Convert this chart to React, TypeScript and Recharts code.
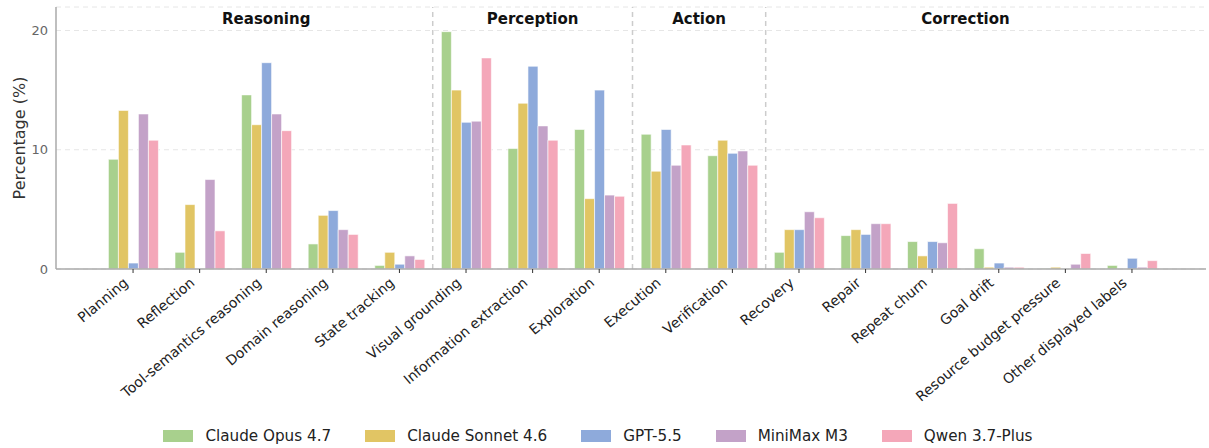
import React from 'react';
import { BarChart, Bar, XAxis, YAxis, CartesianGrid, ReferenceLine, ReferenceArea, Legend } from 'recharts';

const categories = [
  'Planning', 'Reflection', 'Tool-semantics reasoning', 'Domain reasoning', 'State tracking',
  'Visual grounding', 'Information extraction', 'Exploration',
  'Execution', 'Verification',
  'Recovery', 'Repair', 'Repeat churn', 'Goal drift', 'Resource budget pressure', 'Other displayed labels',
];

const seriesNames = ['Claude Opus 4.7', 'Claude Sonnet 4.6', 'GPT-5.5', 'MiniMax M3', 'Qwen 3.7-Plus'];
const seriesKeys = ['opus', 'sonnet', 'gpt', 'minimax', 'qwen'];
const colors = ['#A8D08D', '#E1C564', '#8EAADB', '#C3A2C8', '#F4A7B9'];

const opus = [9.2, 1.4, 14.6, 2.1, 0.3, 19.9, 10.1, 11.7, 11.3, 9.5, 1.4, 2.8, 2.3, 1.7, 0.05, 0.3];
const sonnet = [13.3, 5.4, 12.1, 4.5, 1.4, 15.0, 13.9, 5.9, 8.2, 10.8, 3.3, 3.3, 1.1, 0.15, 0.15, 0.0];
const gpt = [0.5, 0.0, 17.3, 4.9, 0.4, 12.3, 17.0, 15.0, 11.7, 9.7, 3.3, 2.9, 2.3, 0.5, 0.0, 0.9];
const minimax = [13.0, 7.5, 13.0, 3.3, 1.1, 12.4, 12.0, 6.2, 8.7, 9.9, 4.8, 3.8, 2.2, 0.15, 0.4, 0.15];
const qwen = [10.8, 3.2, 11.6, 2.9, 0.8, 17.7, 10.8, 6.1, 10.4, 8.7, 4.3, 3.8, 5.5, 0.15, 1.3, 0.7];

const groupNames = ['Reasoning', 'Perception', 'Action', 'Correction'];
const groupFirst = ['Planning', 'Visual grounding', 'Execution', 'Recovery'];
const groupLast = ['State tracking', 'Exploration', 'Verification', 'Other displayed labels'];

const yTicks = [0, 10, 20];

const seriesValues = [opus, sonnet, gpt, minimax, qwen];
const data = categories.map((c, i) => {
  const row: any = { category: c };
  seriesKeys.forEach((k, s) => { row[k] = seriesValues[s][i]; });
  return row;
});

const FONT = 'DejaVu Sans, sans-serif';

const XTick = (props: any) => {
  const { x, y, payload } = props;
  return (
    <g transform={`translate(${x - 4},${y + 9.4}) rotate(-40)`}>
      <text x={0} y={0} textAnchor="end" fontSize={14} fill="#222" fontFamily={FONT}>
        {payload.value}
      </text>
    </g>
  );
};

const GroupLabel = (name: string) => (props: any) => {
  const vb = props.viewBox || {};
  return (
    <text x={vb.x + vb.width / 2} y={vb.y + 17} textAnchor="middle" fontSize={15} fontWeight="bold" fill="#111" fontFamily={FONT}>
      {name}
    </text>
  );
};

const LegendContent = () => (
  <div style={{ display: 'flex', justifyContent: 'center', alignItems: 'center', height: 24, fontFamily: FONT, fontSize: 15.2, color: '#222', paddingRight: 10 }}>
    {seriesNames.map((n, i) => (
      <div key={n} style={{ display: 'flex', alignItems: 'center', marginLeft: i ? 34 : 0 }}>
        <span style={{ width: 30, height: 12, background: colors[i], marginRight: 12, display: 'inline-block' }} />
        <span>{n}</span>
      </div>
    ))}
  </div>
);

export default function App() {
  return (
    <div style={{ position: 'absolute', left: 0, top: 0, background: '#fff' }}>
      <BarChart width={1209} height={448} data={data} margin={{ top: 7, right: 3, left: 0, bottom: 0 }} barCategoryGap="13%" barGap={0}>
        <CartesianGrid vertical={false} stroke="#e6e6e6" strokeDasharray="5 4" />
        <XAxis
          dataKey="category"
          interval={0}
          height={155}
          tick={<XTick />}
          tickSize={4}
          tickMargin={2}
          tickLine={{ stroke: '#333' }}
          axisLine={{ stroke: '#aaaaaa', strokeWidth: 1.5 }}
          padding={{ left: 43.75, right: 40.75 }}
        />
        <YAxis
          width={56}
          domain={[0, 21.97]}
          ticks={yTicks}
          tickSize={0}
          tickMargin={8}
          tickLine={false}
          axisLine={{ stroke: '#aaaaaa', strokeWidth: 1.5 }}
          tick={{ fontSize: 13, fill: '#666', fontFamily: FONT }}
          label={{ value: 'Percentage (%)', angle: -90, position: 'insideLeft', offset: 19, style: { textAnchor: 'middle', fontSize: 16, fill: '#333', fontFamily: FONT } }}
        />
        {groupNames.map((g, i) => (
          <ReferenceArea key={g} x1={groupFirst[i]} x2={groupLast[i]} fill="none" fillOpacity={0} stroke="none" ifOverflow="visible" label={GroupLabel(g)} />
        ))}
        {groupLast.slice(0, 3).map((c) => (
          <ReferenceLine key={c} x={c} position="end" stroke="#cccccc" strokeWidth={1.5} strokeDasharray="5 4" />
        ))}
        {seriesKeys.map((k, i) => (
          <Bar key={k} dataKey={k} name={seriesNames[i]} fill={colors[i]} stroke="#ffffff" strokeWidth={0.6} isAnimationActive={false} />
        ))}
        <Legend verticalAlign="bottom" content={<LegendContent />} />
      </BarChart>
    </div>
  );
}
